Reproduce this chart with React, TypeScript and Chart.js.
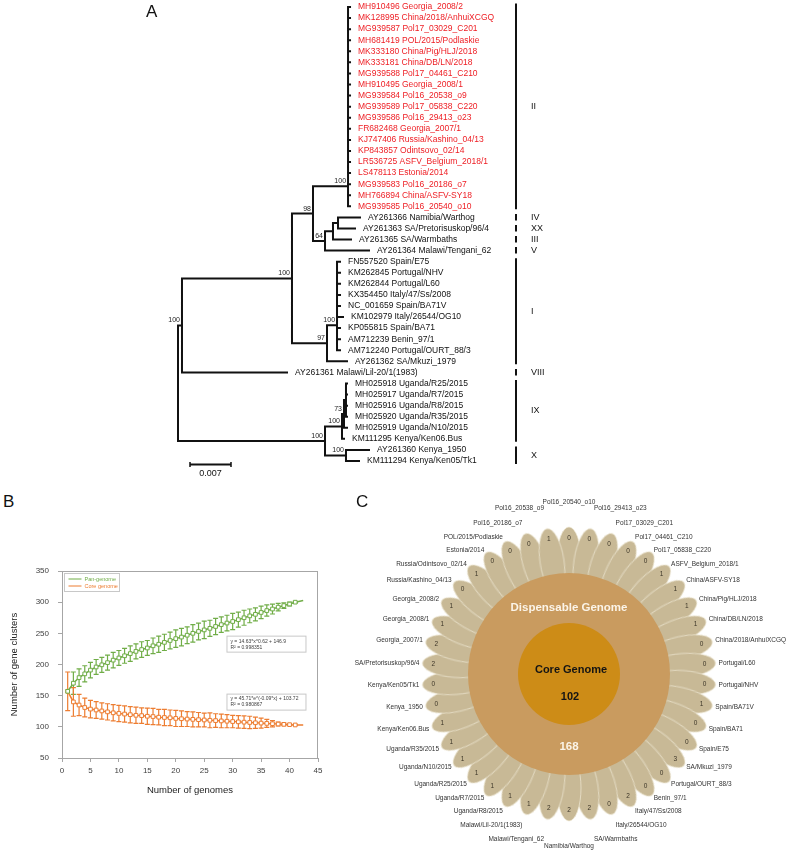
import React, { useEffect, useRef } from "react";
import { Chart, registerables } from "chart.js";

Chart.register(...registerables);

const FONT = "'Liberation Sans', Arial, Helvetica, sans-serif";
Chart.defaults.font.family = FONT;

// ================= Panel A : phylogenetic tree =================
const LEAF_LABELS = [
  "MH910496 Georgia_2008/2",
  "MK128995 China/2018/AnhuiXCGQ",
  "MG939587 Pol17_03029_C201",
  "MH681419 POL/2015/Podlaskie",
  "MK333180 China/Pig/HLJ/2018",
  "MK333181 China/DB/LN/2018",
  "MG939588 Pol17_04461_C210",
  "MH910495 Georgia_2008/1",
  "MG939584 Pol16_20538_o9",
  "MG939589 Pol17_05838_C220",
  "MG939586 Pol16_29413_o23",
  "FR682468 Georgia_2007/1",
  "KJ747406 Russia/Kashino_04/13",
  "KP843857 Odintsovo_02/14",
  "LR536725 ASFV_Belgium_2018/1",
  "LS478113 Estonia/2014",
  "MG939583 Pol16_20186_o7",
  "MH766894 China/ASFV-SY18",
  "MG939585 Pol16_20540_o10",
  "AY261366 Namibia/Warthog",
  "AY261363 SA/Pretorisuskop/96/4",
  "AY261365 SA/Warmbaths",
  "AY261364 Malawi/Tengani_62",
  "FN557520 Spain/E75",
  "KM262845 Portugal/NHV",
  "KM262844 Portugal/L60",
  "KX354450 Italy/47/Ss/2008",
  "NC_001659 Spain/BA71V",
  "KM102979 Italy/26544/OG10",
  "KP055815 Spain/BA71",
  "AM712239 Benin_97/1",
  "AM712240 Portugal/OURT_88/3",
  "AY261362 SA/Mkuzi_1979",
  "AY261361 Malawi/Lil-20/1(1983)",
  "MH025918 Uganda/R25/2015",
  "MH025917 Uganda/R7/2015",
  "MH025916 Uganda/R8/2015",
  "MH025920 Uganda/R35/2015",
  "MH025919 Uganda/N10/2015",
  "KM111295 Kenya/Ken06.Bus",
  "AY261360 Kenya_1950",
  "KM111294 Kenya/Ken05/Tk1",
];

// distance from root (substitutions per site)
const LEAF_DEPTH = [
  0.02937, 0.02937, 0.02937, 0.02937, 0.02937, 0.02937, 0.02937, 0.02937, 0.02937, 0.02937,
  0.02937, 0.02937, 0.02937, 0.02937, 0.02937, 0.02937, 0.02937, 0.02937, 0.02937,
  0.03107, 0.03022, 0.02954, 0.03261,
  0.02766, 0.02766, 0.02766, 0.02766, 0.02766, 0.02817, 0.02766, 0.02766, 0.02766,
  0.02885, 0.01861,
  0.02885, 0.02885, 0.02885, 0.02885, 0.02885, 0.02834,
  0.03261, 0.0309,
];

const NODE_IDS = ["root", "n1", "n2", "n3", "red", "red1", "red2", "red3", "n4", "n5", "n5a", "n6", "n7", "n7a", "nA", "nB", "nC", "nD", "nX"];
const NODE_DEPTH = [0, 0.00068, 0.01946, 0.02305, 0.02903, 0.02903, 0.02903, 0.02903, 0.0251, 0.02646, 0.02732, 0.02544, 0.02715, 0.02715, 0.0251, 0.028, 0.02834, 0.02868, 0.02868];
const NODE_SUPPORT = [null, 100, 100, 98, 100, null, null, null, 64, null, null, 97, 100, null, 100, 100, 73, null, 100];
const NODE_CHILDREN: (string | number)[][] = [
  ["n1", "nA"],
  ["n2", 33],
  ["n3", "n6"],
  ["red", "n4"],
  ["red1", 18],
  ["red2", 17],
  ["red3", 16],
  [0, 1, 2, 3, 4, 5, 6, 7, 8, 9, 10, 11, 12, 13, 14, 15],
  ["n5", 22],
  ["n5a", 21],
  [19, 20],
  ["n7", 32],
  ["n7a", 31],
  [23, 24, 25, 26, 27, 28, 29, 30],
  ["nB", "nX"],
  ["nC", 39],
  ["nD", 38],
  [34, 35, 36, 37],
  [40, 41],
];

const CLADE_NAMES = ["II", "IV", "XX", "III", "V", "I", "VIII", "IX", "X"];
const CLADE_FIRST = [0, 19, 20, 21, 22, 23, 33, 34, 40];
const CLADE_LAST = [18, 19, 20, 21, 22, 32, 33, 39, 41];
const HIGHLIGHT_CLADE = "II";
const SCALE_BAR_LENGTH = 0.007;

// ================= Panel B : pan / core genome =================
const GENOME_COUNT = [1, 2, 3, 4, 5, 6, 7, 8, 9, 10, 11, 12, 13, 14, 15, 16, 17, 18, 19, 20, 21, 22, 23, 24, 25, 26, 27, 28, 29, 30, 31, 32, 33, 34, 35, 36, 37, 38, 39, 40, 41];
const PAN_GENOME = [157, 170, 179, 185, 191, 196, 199.5, 203, 207, 210.5, 214, 217.5, 221, 224, 226.5, 230, 232.5, 235.5, 238.5, 241.5, 244, 247, 250, 253, 255.5, 258, 261, 264, 266.5, 269, 272, 275, 278, 280.5, 283.5, 286.5, 289, 292, 294.5, 297, 300];
const PAN_ERR = [0, 18, 14, 13, 12.5, 12, 12, 12, 12.5, 12, 12, 12.5, 12, 12.5, 12, 12.5, 13, 13, 13.5, 14, 14, 13.5, 14, 13.5, 14, 13, 13, 12.5, 12.5, 13, 12, 12, 11, 10.5, 10, 9, 8, 6, 4.5, 3, 1];
const CORE_GENOME = [157, 140, 135, 131, 128.5, 127, 125.5, 124, 122.5, 121.5, 120.5, 119.5, 118.5, 118, 117, 116.5, 115.5, 115, 114.5, 113.5, 113, 112.5, 112, 111.5, 111, 110.5, 110, 109.5, 109, 108.5, 108, 107.5, 107, 106.5, 106, 105.5, 105, 104.5, 104, 103.5, 103];
const CORE_ERR = [31, 23, 17, 15, 14, 13.5, 13, 13, 13, 13, 13, 13, 13, 12.5, 13, 13, 12.5, 13, 12.5, 13, 12.5, 12, 12, 11.5, 11, 12, 11, 11, 10.5, 10, 10, 10, 10, 9, 8, 6.5, 5, 3, 2, 1, 0.5];
const FIT_END_X = 42.4;
const PAN_FIT_END = 302.5;
const CORE_FIT_END = 103;
const PAN_FIT_TEXT = ["y = 14.63*x^0.62 + 146.9", "R² = 0.998351"];
const CORE_FIT_TEXT = ["y = 45.71*e^(-0.09*x) + 103.72", "R² = 0.980867"];
const SERIES_NAMES = ["Pan-genome", "Core genome"];

// ================= Panel C : flower plot =================
const FLOWER_GENOMES = [
  "Pol16_20540_o10", "Pol16_29413_o23", "Pol17_03029_C201", "Pol17_04461_C210", "Pol17_05838_C220",
  "ASFV_Belgium_2018/1", "China/ASFV-SY18", "China/Pig/HLJ/2018", "China/DB/LN/2018", "China/2018/AnhuiXCGQ",
  "Portugal/L60", "Portugal/NHV", "Spain/BA71V", "Spain/BA71", "Spain/E75",
  "SA/Mkuzi_1979", "Portugal/OURT_88/3", "Benin_97/1", "Italy/47/Ss/2008", "Italy/26544/OG10",
  "SA/Warmbaths", "Namibia/Warthog", "Malawi/Tengani_62", "Malawi/Lil-20/1(1983)", "Uganda/R8/2015",
  "Uganda/R7/2015", "Uganda/R25/2015", "Uganda/N10/2015", "Uganda/R35/2015", "Kenya/Ken06.Bus",
  "Kenya_1950", "Kenya/Ken05/Tk1", "SA/Pretorisuskop/96/4", "Georgia_2007/1", "Georgia_2008/1",
  "Georgia_2008/2", "Russia/Kashino_04/13", "Russia/Odintsovo_02/14", "Estonia/2014", "POL/2015/Podlaskie",
  "Pol16_20186_o7", "Pol16_20538_o9",
];
const FLOWER_UNIQUE = [
  0, 0, 0, 0, 0, 1, 1, 1, 1, 0,
  0, 0, 1, 0, 0, 3, 0, 0, 2, 0,
  2, 2, 2, 1, 1, 1, 1, 1, 1, 1,
  0, 0, 2, 2, 1, 1, 0, 1, 0, 0,
  0, 1,
];
const CORE_GENES = 102;
const DISPENSABLE_GENES = 168;

// ---------------- styles / layout ----------------
const TREE_W = 786;
const TREE_H = 490;
const ROOT_PX = 178;
const PX_PER_UNIT = 41 / 0.007;
const LEAF_TOP = 7;
const LEAF_STEP = 11.073;
const CLADE_BAR_X = 516;
const RED = "#ee1d23";
const GREEN = "#70ad47";
const ORANGE = "#ed7d31";

function nodeIndex(id: string) {
  return NODE_IDS.indexOf(id);
}
function yOf(c: string | number): number {
  if (typeof c === "number") return c;
  const ch = NODE_CHILDREN[nodeIndex(c)];
  return (yOf(ch[0]) + yOf(ch[ch.length - 1])) / 2;
}
function dOf(c: string | number): number {
  return typeof c === "number" ? LEAF_DEPTH[c] : NODE_DEPTH[nodeIndex(c)];
}
function cladeOf(i: number) {
  for (let j = 0; j < CLADE_NAMES.length; j++) if (i >= CLADE_FIRST[j] && i <= CLADE_LAST[j]) return CLADE_NAMES[j];
  return "";
}

function makeTree(canvas: HTMLCanvasElement) {
  const segs: { x: number; y: number }[] = [];
  const gap = { x: NaN, y: NaN };
  NODE_IDS.forEach((id, k) => {
    const ch = NODE_CHILDREN[k];
    const d = NODE_DEPTH[k];
    segs.push({ x: d, y: yOf(ch[0]) }, { x: d, y: yOf(ch[ch.length - 1]) }, gap);
    ch.forEach((c) => {
      segs.push({ x: d, y: yOf(c) }, { x: dOf(c), y: yOf(c) }, gap);
    });
  });

  const textPlugin = {
    id: "treeText",
    afterDatasetsDraw(chart: any) {
      const { ctx } = chart;
      const xs = chart.scales.x;
      const ys = chart.scales.y;
      ctx.save();
      ctx.font = `8.5px ${FONT}`;
      ctx.textAlign = "left";
      ctx.textBaseline = "middle";
      LEAF_LABELS.forEach((t, i) => {
        ctx.fillStyle = cladeOf(i) === HIGHLIGHT_CLADE ? RED : "#111";
        ctx.fillText(t, xs.getPixelForValue(LEAF_DEPTH[i]) + 8, ys.getPixelForValue(i));
      });
      ctx.font = `7px ${FONT}`;
      ctx.textAlign = "right";
      ctx.textBaseline = "bottom";
      ctx.fillStyle = "#222";
      NODE_IDS.forEach((id, k) => {
        const s = NODE_SUPPORT[k];
        if (s == null) return;
        ctx.fillText(String(s), xs.getPixelForValue(NODE_DEPTH[k]) - 2, ys.getPixelForValue(yOf(id)) - 1.5);
      });
      // clade bars
      ctx.strokeStyle = "#111";
      ctx.lineWidth = 2;
      ctx.font = `9px ${FONT}`;
      ctx.textAlign = "left";
      ctx.textBaseline = "middle";
      ctx.fillStyle = "#111";
      CLADE_NAMES.forEach((n, j) => {
        const y0 = ys.getPixelForValue(CLADE_FIRST[j]) - 3.5;
        const y1 = ys.getPixelForValue(CLADE_LAST[j]) + 3;
        ctx.beginPath();
        ctx.moveTo(CLADE_BAR_X, y0);
        ctx.lineTo(CLADE_BAR_X, y1);
        ctx.stroke();
        ctx.fillText(n, CLADE_BAR_X + 15, (y0 + y1) / 2);
      });
      // scale bar
      const x0 = xs.getPixelForValue(0) + 12;
      const x1 = x0 + (xs.getPixelForValue(SCALE_BAR_LENGTH) - xs.getPixelForValue(0));
      const yb = ys.getPixelForValue(LEAF_LABELS.length - 1) + 3.5;
      ctx.lineWidth = 2;
      ctx.beginPath();
      ctx.moveTo(x0, yb);
      ctx.lineTo(x1, yb);
      ctx.stroke();
      ctx.lineWidth = 1.5;
      ctx.beginPath();
      ctx.moveTo(x0, yb - 2.5);
      ctx.lineTo(x0, yb + 2.5);
      ctx.moveTo(x1, yb - 2.5);
      ctx.lineTo(x1, yb + 2.5);
      ctx.stroke();
      ctx.font = `9px ${FONT}`;
      ctx.textAlign = "center";
      ctx.fillText(String(SCALE_BAR_LENGTH), (x0 + x1) / 2, yb + 9);
      ctx.restore();
    },
  };

  return new Chart(canvas, {
    type: "scatter",
    data: {
      datasets: [
        {
          data: segs,
          showLine: true,
          borderColor: "#111",
          borderWidth: 2,
          pointRadius: 0,
          borderCapStyle: "square",
          spanGaps: false,
          clip: false,
        } as any,
      ],
    },
    options: {
      animation: false,
      responsive: false,
      events: [],
      layout: { padding: 0, autoPadding: false },
      plugins: { legend: { display: false }, tooltip: { enabled: false } },
      scales: {
        x: { type: "linear", display: false, min: -ROOT_PX / PX_PER_UNIT, max: (TREE_W - ROOT_PX) / PX_PER_UNIT },
        y: { type: "linear", display: false, reverse: true, min: -LEAF_TOP / LEAF_STEP, max: (TREE_H - LEAF_TOP) / LEAF_STEP },
      },
    } as any,
    plugins: [textPlugin],
  });
}

function makePan(canvas: HTMLCanvasElement) {
  const panData = GENOME_COUNT.map((g, i) => ({ x: g, y: PAN_GENOME[i] })).concat([{ x: FIT_END_X, y: PAN_FIT_END }]);
  const coreData = GENOME_COUNT.map((g, i) => ({ x: g, y: CORE_GENOME[i] })).concat([{ x: FIT_END_X, y: CORE_FIT_END }]);
  const radii = GENOME_COUNT.map(() => 2.6).concat([0]);

  const decor = {
    id: "panDecor",
    beforeDatasetsDraw(chart: any) {
      const { ctx } = chart;
      const xs = chart.scales.x;
      const ys = chart.scales.y;
      chart.data.datasets.forEach((ds: any) => {
        if (!ds.errors) return;
        ctx.save();
        ctx.strokeStyle = ds.borderColor;
        ctx.lineWidth = 1.2;
        ds.errors.forEach((e: number, i: number) => {
          if (!e) return;
          const p = ds.data[i];
          const px = xs.getPixelForValue(p.x);
          const y1 = ys.getPixelForValue(p.y - e);
          const y2 = ys.getPixelForValue(p.y + e);
          ctx.beginPath();
          ctx.moveTo(px, y1);
          ctx.lineTo(px, y2);
          ctx.moveTo(px - 2.5, y1);
          ctx.lineTo(px + 2.5, y1);
          ctx.moveTo(px - 2.5, y2);
          ctx.lineTo(px + 2.5, y2);
          ctx.stroke();
        });
        ctx.restore();
      });
    },
    afterDatasetsDraw(chart: any) {
      const { ctx, chartArea: a } = chart;
      const xs = chart.scales.x;
      const ys = chart.scales.y;
      ctx.save();
      ctx.strokeStyle = "#a6a6a6";
      ctx.lineWidth = 1;
      ctx.strokeRect(Math.round(a.left) + 0.5, Math.round(a.top) + 0.5, Math.round(a.width) - 1, Math.round(a.height));
      // legend
      const lx = a.left + 2.5;
      const ly = a.top + 2.5;
      ctx.fillStyle = "#fff";
      ctx.strokeStyle = "#c8c8c8";
      ctx.fillRect(lx, ly, 55, 18);
      ctx.strokeRect(lx, ly, 55, 18);
      ctx.font = `5.5px ${FONT}`;
      ctx.textAlign = "left";
      ctx.textBaseline = "middle";
      [GREEN, ORANGE].forEach((c, i) => {
        const yy = ly + 5.5 + i * 7;
        ctx.strokeStyle = c;
        ctx.lineWidth = 1;
        ctx.beginPath();
        ctx.moveTo(lx + 4, yy);
        ctx.lineTo(lx + 17, yy);
        ctx.stroke();
        ctx.fillStyle = c;
        ctx.fillText(SERIES_NAMES[i], lx + 20, yy);
      });
      // fit equation boxes
      const boxes = [
        { t: PAN_FIT_TEXT, y: 245.5 },
        { t: CORE_FIT_TEXT, y: 152.5 },
      ];
      boxes.forEach((b) => {
        const bx = xs.getPixelForValue(29);
        const by = ys.getPixelForValue(b.y);
        ctx.fillStyle = "#fff";
        ctx.strokeStyle = "#c8c8c8";
        ctx.lineWidth = 1;
        ctx.fillRect(bx, by, 79, 16);
        ctx.strokeRect(bx, by, 79, 16);
        ctx.fillStyle = "#404040";
        ctx.font = `5px ${FONT}`;
        ctx.fillText(b.t[0], bx + 3.5, by + 5);
        ctx.fillText(b.t[1], bx + 3.5, by + 11);
      });
      ctx.restore();
    },
  };

  const axisCommon = {
    type: "linear",
    grid: { display: true, drawOnChartArea: false, drawTicks: true, tickLength: 4, color: "#a6a6a6" },
    border: { display: true, color: "#a6a6a6" },
  };

  return new Chart(canvas, {
    type: "scatter",
    data: {
      datasets: [
        {
          label: SERIES_NAMES[0],
          data: panData,
          showLine: true,
          borderColor: GREEN,
          borderWidth: 1.5,
          pointStyle: "rect",
          pointRadius: radii,
          pointBackgroundColor: "#fff",
          pointBorderColor: GREEN,
          pointBorderWidth: 1,
          errors: PAN_ERR,
          clip: false,
        } as any,
        {
          label: SERIES_NAMES[1],
          data: coreData,
          showLine: true,
          borderColor: ORANGE,
          borderWidth: 1.5,
          pointStyle: "rect",
          pointRadius: radii,
          pointBackgroundColor: "#fff",
          pointBorderColor: ORANGE,
          pointBorderWidth: 1,
          errors: CORE_ERR,
          clip: false,
        } as any,
      ],
    },
    options: {
      animation: false,
      responsive: false,
      events: [],
      layout: { padding: { left: 4, right: 27, top: 31, bottom: 14 }, autoPadding: false },
      plugins: { legend: { display: false }, tooltip: { enabled: false } },
      scales: {
        x: {
          ...axisCommon,
          min: 0,
          max: 45,
          ticks: { stepSize: 5, font: { size: 8 }, color: "#404040", padding: 4, maxRotation: 0, autoSkip: false },
          title: { display: true, text: "Number of genomes", font: { size: 9.5 }, color: "#222", padding: { top: 0, bottom: 0 } },
          afterFit: (s: any) => {
            s.height = 38;
          },
        } as any,
        y: {
          ...axisCommon,
          min: 50,
          max: 350,
          ticks: { stepSize: 50, font: { size: 8 }, color: "#404040", padding: 9 },
          title: { display: true, text: "Number of gene clusters", font: { size: 9.5 }, color: "#222", padding: { top: 5, bottom: 0 } },
          afterFit: (s: any) => {
            s.width = 58;
          },
        } as any,
      },
    } as any,
    plugins: [decor],
  });
}

const PETAL_R = 114;
const PETAL_A = 33;
const PETAL_B = 12;

function makePetal() {
  const c = document.createElement("canvas");
  c.width = Math.ceil(2 * PETAL_A + 4);
  c.height = Math.ceil(2 * PETAL_B + 4);
  const g = c.getContext("2d")!;
  g.beginPath();
  g.ellipse(c.width / 2, c.height / 2, PETAL_A, PETAL_B, 0, 0, Math.PI * 2);
  g.fillStyle = "#c8b996";
  g.fill();
  g.strokeStyle = "rgba(240,234,215,0.85)";
  g.lineWidth = 0.8;
  g.stroke();
  return c;
}

function makeFlower(canvas: HTMLCanvasElement) {
  const n = FLOWER_GENOMES.length;
  const ang = FLOWER_GENOMES.map((_, i) => 90 - (i * 360) / n);
  const petals = ang.map((a) => ({ x: PETAL_R * Math.cos((a * Math.PI) / 180), y: PETAL_R * Math.sin((a * Math.PI) / 180) }));
  const petal = makePetal();

  const textPlugin = {
    id: "flowerText",
    afterDatasetsDraw(chart: any) {
      const { ctx } = chart;
      const xs = chart.scales.x;
      const ys = chart.scales.y;
      const P = (x: number, y: number) => [xs.getPixelForValue(x), ys.getPixelForValue(y)];
      ctx.save();
      ctx.textBaseline = "middle";
      // petal counts
      ctx.font = `6.5px ${FONT}`;
      ctx.textAlign = "center";
      ctx.fillStyle = "#3d3628";
      ang.forEach((a, i) => {
        const r = 136;
        const [px, py] = P(r * Math.cos((a * Math.PI) / 180), r * Math.sin((a * Math.PI) / 180));
        ctx.fillText(String(FLOWER_UNIQUE[i]), px, py);
      });
      // genome names
      ctx.fillStyle = "#333";
      ang.forEach((a, i) => {
        const rad = (a * Math.PI) / 180;
        const c = Math.cos(rad);
        const s = Math.sin(rad);
        const r = 150 + 22 * Math.pow(Math.abs(s), 22);
        const [px, py] = P(r * c, r * s);
        ctx.textAlign = c > 0.05 ? "left" : c < -0.05 ? "right" : "center";
        ctx.fillText(FLOWER_GENOMES[i], px, py);
      });
      // center texts
      ctx.textAlign = "center";
      ctx.font = `bold 11.5px ${FONT}`;
      ctx.fillStyle = "#fbf4e8";
      let [cx, cy] = P(0, 66);
      ctx.fillText("Dispensable Genome", cx, cy);
      [cx, cy] = P(0, -73);
      ctx.fillText(String(DISPENSABLE_GENES), cx, cy);
      ctx.fillStyle = "#141414";
      ctx.font = `bold 11px ${FONT}`;
      [cx, cy] = P(2, 4);
      ctx.fillText("Core Genome", cx, cy);
      [cx, cy] = P(1, -23);
      ctx.fillText(String(CORE_GENES), cx, cy);
      ctx.restore();
    },
  };

  const disc = (r: number, color: string, order: number) =>
    ({
      data: [{ x: 0, y: 0 }],
      pointRadius: r,
      pointBackgroundColor: color,
      pointBorderWidth: 0,
      pointBorderColor: color,
      order,
      clip: false,
    } as any);

  return new Chart(canvas, {
    type: "scatter",
    data: {
      datasets: [
        disc(122, "#f4efda", 4),
        {
          data: petals,
          pointStyle: petal,
          pointRadius: 1,
          pointRotation: ang.map((a) => -a),
          order: 3,
          clip: false,
        } as any,
        disc(101, "#c99b5f", 2),
        disc(51, "#cd8c17", 1),
      ],
    },
    options: {
      animation: false,
      responsive: false,
      events: [],
      layout: { padding: 0, autoPadding: false },
      plugins: { legend: { display: false }, tooltip: { enabled: false } },
      scales: {
        x: { type: "linear", display: false, min: -224, max: 217 },
        y: { type: "linear", display: false, min: -180, max: 184 },
      },
    } as any,
    plugins: [textPlugin],
  });
}

export default function App() {
  const treeRef = useRef<HTMLCanvasElement>(null);
  const panRef = useRef<HTMLCanvasElement>(null);
  const flowerRef = useRef<HTMLCanvasElement>(null);

  useEffect(() => {
    const charts = [makeTree(treeRef.current!), makePan(panRef.current!), makeFlower(flowerRef.current!)];
    return () => charts.forEach((c) => c.destroy());
  }, []);

  const letter = (t: string, left: number, top: number) => (
    <div style={{ position: "absolute", left, top, fontSize: 17, fontFamily: FONT, color: "#111", lineHeight: "20px" }}>{t}</div>
  );

  return (
    <div style={{ position: "absolute", left: 0, top: 0, width: 786, height: 854, background: "#fff", overflow: "hidden" }}>
      <canvas ref={treeRef} width={TREE_W} height={TREE_H} style={{ position: "absolute", left: 0, top: 0, width: TREE_W, height: TREE_H }} />
      <canvas ref={panRef} width={345} height={270} style={{ position: "absolute", left: 0, top: 540, width: 345, height: 270 }} />
      <canvas ref={flowerRef} width={441} height={364} style={{ position: "absolute", left: 345, top: 490, width: 441, height: 364 }} />
      {letter("A", 146, 2)}
      {letter("B", 3, 492)}
      {letter("C", 356, 492)}
    </div>
  );
}
